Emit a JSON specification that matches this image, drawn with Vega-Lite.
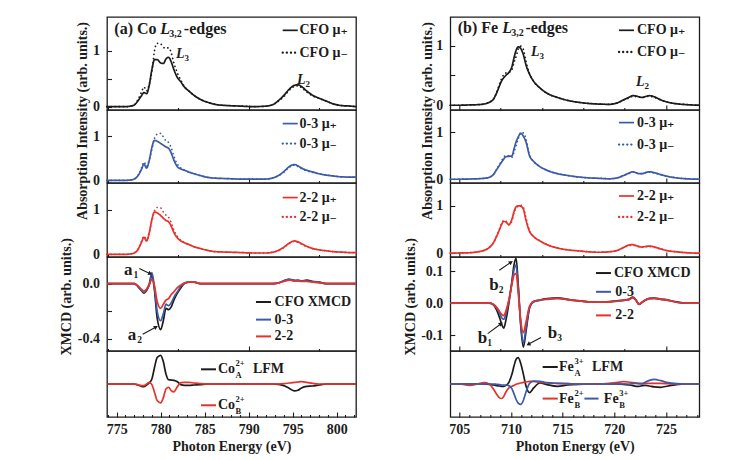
{
  "$schema": "https://vega.github.io/schema/vega-lite/v6.json",
  "background": "white",
  "padding": {"left": 59, "top": 16, "right": 10, "bottom": 5},
  "datasets": {
    "co": [
      {"E":773.9,"cfo_p":0,"cfo_m":0,"s03_p":0,"s03_m":0,"s22_p":0,"s22_m":0,"xmcd_cfo":0,"xmcd_03":0,"xmcd_22":0,"lfm_a":0,"lfm_b":0},
      {"E":775,"cfo_p":0,"cfo_m":0,"s03_p":0,"s03_m":0,"s22_p":0,"s22_m":0,"xmcd_cfo":0,"xmcd_03":0,"xmcd_22":0,"lfm_a":0,"lfm_b":0},
      {"E":776,"cfo_p":0,"cfo_m":0,"s03_p":0,"s03_m":0,"s22_p":0,"s22_m":0,"xmcd_cfo":0,"xmcd_03":0,"xmcd_22":0,"lfm_a":0,"lfm_b":0},
      {"E":776.6,"cfo_p":0.01,"cfo_m":0.01,"s03_p":0.01,"s03_m":0.01,"s22_p":0.01,"s22_m":0.01,"xmcd_cfo":0,"xmcd_03":0,"xmcd_22":0,"lfm_a":0,"lfm_b":0},
      {"E":777.0,"cfo_p":0.03,"cfo_m":0.03,"s03_p":0.03,"s03_m":0.03,"s22_p":0.03,"s22_m":0.03,"xmcd_cfo":0,"xmcd_03":0,"xmcd_22":0,"lfm_a":0,"lfm_b":0},
      {"E":777.4,"cfo_p":0.10,"cfo_m":0.12,"s03_p":0.10,"s03_m":0.11,"s22_p":0.10,"s22_m":0.11,"xmcd_cfo":-0.02,"xmcd_03":-0.02,"xmcd_22":-0.015,"lfm_a":-0.03,"lfm_b":-0.02},
      {"E":777.8,"cfo_p":0.19,"cfo_m":0.25,"s03_p":0.24,"s03_m":0.27,"s22_p":0.26,"s22_m":0.28,"xmcd_cfo":-0.05,"xmcd_03":-0.05,"xmcd_22":-0.04,"lfm_a":-0.07,"lfm_b":-0.05},
      {"E":778.1,"cfo_p":0.25,"cfo_m":0.35,"s03_p":0.37,"s03_m":0.42,"s22_p":0.38,"s22_m":0.41,"xmcd_cfo":-0.07,"xmcd_03":-0.065,"xmcd_22":-0.055,"lfm_a":-0.08,"lfm_b":-0.05},
      {"E":778.4,"cfo_p":0.23,"cfo_m":0.28,"s03_p":0.28,"s03_m":0.32,"s22_p":0.30,"s22_m":0.33,"xmcd_cfo":-0.05,"xmcd_03":-0.045,"xmcd_22":-0.04,"lfm_a":-0.03,"lfm_b":0},
      {"E":778.7,"cfo_p":0.38,"cfo_m":0.40,"s03_p":0.45,"s03_m":0.47,"s22_p":0.48,"s22_m":0.49,"xmcd_cfo":-0.01,"xmcd_03":0,"xmcd_22":-0.01,"lfm_a":0.03,"lfm_b":0.05},
      {"E":779.0,"cfo_p":0.66,"cfo_m":0.62,"s03_p":0.75,"s03_m":0.70,"s22_p":0.78,"s22_m":0.75,"xmcd_cfo":0.06,"xmcd_03":0.08,"xmcd_22":0.03,"lfm_a":0.15,"lfm_b":-0.02},
      {"E":779.3,"cfo_p":0.84,"cfo_m":1.00,"s03_p":0.91,"s03_m":0.96,"s22_p":0.95,"s22_m":0.98,"xmcd_cfo":-0.05,"xmcd_03":-0.03,"xmcd_22":-0.02,"lfm_a":0.5,"lfm_b":-0.25},
      {"E":779.6,"cfo_p":0.84,"cfo_m":1.13,"s03_p":0.89,"s03_m":1.05,"s22_p":0.93,"s22_m":1.05,"xmcd_cfo":-0.25,"xmcd_03":-0.2,"xmcd_22":-0.13,"lfm_a":0.8,"lfm_b":-0.5},
      {"E":780.0,"cfo_p":0.78,"cfo_m":1.12,"s03_p":0.84,"s03_m":1.07,"s22_p":0.87,"s22_m":1.04,"xmcd_cfo":-0.335,"xmcd_03":-0.27,"xmcd_22":-0.18,"lfm_a":0.87,"lfm_b":-0.57},
      {"E":780.3,"cfo_p":0.77,"cfo_m":1.06,"s03_p":0.80,"s03_m":0.99,"s22_p":0.81,"s22_m":0.95,"xmcd_cfo":-0.27,"xmcd_03":-0.22,"xmcd_22":-0.15,"lfm_a":0.68,"lfm_b":-0.42},
      {"E":780.6,"cfo_p":0.85,"cfo_m":1.04,"s03_p":0.76,"s03_m":0.90,"s22_p":0.76,"s22_m":0.88,"xmcd_cfo":-0.18,"xmcd_03":-0.15,"xmcd_22":-0.12,"lfm_a":0.3,"lfm_b":-0.15},
      {"E":780.9,"cfo_p":0.88,"cfo_m":1.05,"s03_p":0.73,"s03_m":0.86,"s22_p":0.73,"s22_m":0.83,"xmcd_cfo":-0.19,"xmcd_03":-0.16,"xmcd_22":-0.11,"lfm_a":0.13,"lfm_b":-0.1},
      {"E":781.2,"cfo_p":0.80,"cfo_m":0.96,"s03_p":0.62,"s03_m":0.74,"s22_p":0.63,"s22_m":0.71,"xmcd_cfo":-0.17,"xmcd_03":-0.14,"xmcd_22":-0.08,"lfm_a":0.12,"lfm_b":-0.2},
      {"E":781.5,"cfo_p":0.66,"cfo_m":0.78,"s03_p":0.46,"s03_m":0.55,"s22_p":0.49,"s22_m":0.55,"xmcd_cfo":-0.12,"xmcd_03":-0.1,"xmcd_22":-0.06,"lfm_a":0.11,"lfm_b":-0.24},
      {"E":781.9,"cfo_p":0.52,"cfo_m":0.60,"s03_p":0.31,"s03_m":0.37,"s22_p":0.37,"s22_m":0.40,"xmcd_cfo":-0.07,"xmcd_03":-0.06,"xmcd_22":-0.03,"lfm_a":0.07,"lfm_b":-0.08},
      {"E":782.3,"cfo_p":0.44,"cfo_m":0.47,"s03_p":0.26,"s03_m":0.28,"s22_p":0.30,"s22_m":0.31,"xmcd_cfo":-0.03,"xmcd_03":-0.02,"xmcd_22":-0.01,"lfm_a":-0.02,"lfm_b":0.04},
      {"E":782.7,"cfo_p":0.35,"cfo_m":0.36,"s03_p":0.23,"s03_m":0.23,"s22_p":0.26,"s22_m":0.26,"xmcd_cfo":0,"xmcd_03":0,"xmcd_22":0.005,"lfm_a":-0.04,"lfm_b":0.05},
      {"E":783.2,"cfo_p":0.28,"cfo_m":0.28,"s03_p":0.19,"s03_m":0.19,"s22_p":0.22,"s22_m":0.22,"xmcd_cfo":0.01,"xmcd_03":0.01,"xmcd_22":0.01,"lfm_a":-0.04,"lfm_b":0.05},
      {"E":783.8,"cfo_p":0.20,"cfo_m":0.20,"s03_p":0.15,"s03_m":0.15,"s22_p":0.17,"s22_m":0.17,"xmcd_cfo":0.01,"xmcd_03":0.01,"xmcd_22":0.01,"lfm_a":-0.03,"lfm_b":0.03},
      {"E":784.5,"cfo_p":0.13,"cfo_m":0.13,"s03_p":0.11,"s03_m":0.11,"s22_p":0.13,"s22_m":0.13,"xmcd_cfo":0,"xmcd_03":0,"xmcd_22":0,"lfm_a":-0.02,"lfm_b":0.01},
      {"E":785.3,"cfo_p":0.08,"cfo_m":0.08,"s03_p":0.07,"s03_m":0.07,"s22_p":0.09,"s22_m":0.09,"xmcd_cfo":0,"xmcd_03":0,"xmcd_22":0,"lfm_a":0,"lfm_b":0},
      {"E":786.2,"cfo_p":0.04,"cfo_m":0.04,"s03_p":0.05,"s03_m":0.05,"s22_p":0.06,"s22_m":0.06,"xmcd_cfo":0,"xmcd_03":0,"xmcd_22":0,"lfm_a":0,"lfm_b":0},
      {"E":787.5,"cfo_p":0.02,"cfo_m":0.02,"s03_p":0.04,"s03_m":0.04,"s22_p":0.05,"s22_m":0.05,"xmcd_cfo":0,"xmcd_03":0,"xmcd_22":0,"lfm_a":0,"lfm_b":0},
      {"E":789,"cfo_p":0.01,"cfo_m":0.01,"s03_p":0.03,"s03_m":0.03,"s22_p":0.04,"s22_m":0.04,"xmcd_cfo":0,"xmcd_03":0,"xmcd_22":0,"lfm_a":0,"lfm_b":0},
      {"E":790.5,"cfo_p":0,"cfo_m":0,"s03_p":0.03,"s03_m":0.03,"s22_p":0.03,"s22_m":0.03,"xmcd_cfo":0,"xmcd_03":0,"xmcd_22":0,"lfm_a":0,"lfm_b":0},
      {"E":792,"cfo_p":0.01,"cfo_m":0.01,"s03_p":0.03,"s03_m":0.03,"s22_p":0.03,"s22_m":0.03,"xmcd_cfo":0,"xmcd_03":0,"xmcd_22":0,"lfm_a":0,"lfm_b":0},
      {"E":792.8,"cfo_p":0.04,"cfo_m":0.04,"s03_p":0.06,"s03_m":0.06,"s22_p":0.05,"s22_m":0.05,"xmcd_cfo":0,"xmcd_03":0,"xmcd_22":0,"lfm_a":0,"lfm_b":0},
      {"E":793.4,"cfo_p":0.11,"cfo_m":0.10,"s03_p":0.11,"s03_m":0.105,"s22_p":0.09,"s22_m":0.085,"xmcd_cfo":0.005,"xmcd_03":0.005,"xmcd_22":0.005,"lfm_a":-0.01,"lfm_b":0},
      {"E":794.0,"cfo_p":0.20,"cfo_m":0.18,"s03_p":0.20,"s03_m":0.185,"s22_p":0.16,"s22_m":0.15,"xmcd_cfo":0.02,"xmcd_03":0.02,"xmcd_22":0.015,"lfm_a":-0.05,"lfm_b":0.01},
      {"E":794.6,"cfo_p":0.31,"cfo_m":0.29,"s03_p":0.31,"s03_m":0.295,"s22_p":0.25,"s22_m":0.24,"xmcd_cfo":0.03,"xmcd_03":0.03,"xmcd_22":0.025,"lfm_a":-0.13,"lfm_b":0.03},
      {"E":795.2,"cfo_p":0.38,"cfo_m":0.36,"s03_p":0.36,"s03_m":0.345,"s22_p":0.30,"s22_m":0.29,"xmcd_cfo":0.02,"xmcd_03":0.025,"xmcd_22":0.02,"lfm_a":-0.21,"lfm_b":0.05},
      {"E":795.6,"cfo_p":0.39,"cfo_m":0.37,"s03_p":0.33,"s03_m":0.315,"s22_p":0.28,"s22_m":0.27,"xmcd_cfo":0.025,"xmcd_03":0.02,"xmcd_22":0.02,"lfm_a":-0.19,"lfm_b":0.06},
      {"E":796.0,"cfo_p":0.36,"cfo_m":0.34,"s03_p":0.28,"s03_m":0.265,"s22_p":0.24,"s22_m":0.23,"xmcd_cfo":0.02,"xmcd_03":0.02,"xmcd_22":0.015,"lfm_a":-0.12,"lfm_b":0.07},
      {"E":796.6,"cfo_p":0.28,"cfo_m":0.26,"s03_p":0.23,"s03_m":0.215,"s22_p":0.18,"s22_m":0.17,"xmcd_cfo":0.025,"xmcd_03":0.02,"xmcd_22":0.015,"lfm_a":-0.07,"lfm_b":0.05},
      {"E":797.3,"cfo_p":0.20,"cfo_m":0.19,"s03_p":0.19,"s03_m":0.18,"s22_p":0.13,"s22_m":0.125,"xmcd_cfo":0.015,"xmcd_03":0.015,"xmcd_22":0.01,"lfm_a":-0.06,"lfm_b":0.02},
      {"E":798.0,"cfo_p":0.15,"cfo_m":0.15,"s03_p":0.15,"s03_m":0.15,"s22_p":0.10,"s22_m":0.10,"xmcd_cfo":0.01,"xmcd_03":0.01,"xmcd_22":0.005,"lfm_a":-0.03,"lfm_b":0},
      {"E":798.8,"cfo_p":0.10,"cfo_m":0.10,"s03_p":0.12,"s03_m":0.12,"s22_p":0.08,"s22_m":0.08,"xmcd_cfo":0,"xmcd_03":0,"xmcd_22":0,"lfm_a":0,"lfm_b":0},
      {"E":799.6,"cfo_p":0.05,"cfo_m":0.05,"s03_p":0.10,"s03_m":0.10,"s22_p":0.06,"s22_m":0.06,"xmcd_cfo":0,"xmcd_03":0,"xmcd_22":0,"lfm_a":0,"lfm_b":0},
      {"E":800.5,"cfo_p":0.02,"cfo_m":0.02,"s03_p":0.08,"s03_m":0.08,"s22_p":0.05,"s22_m":0.05,"xmcd_cfo":0,"xmcd_03":0,"xmcd_22":0,"lfm_a":0,"lfm_b":0},
      {"E":801.5,"cfo_p":0.01,"cfo_m":0.01,"s03_p":0.075,"s03_m":0.075,"s22_p":0.04,"s22_m":0.04,"xmcd_cfo":0,"xmcd_03":0,"xmcd_22":0,"lfm_a":0,"lfm_b":0},
      {"E":802.2,"cfo_p":0,"cfo_m":0,"s03_p":0.075,"s03_m":0.075,"s22_p":0.04,"s22_m":0.04,"xmcd_cfo":0,"xmcd_03":0,"xmcd_22":0,"lfm_a":0,"lfm_b":0}
    ],
    "fe": [
      {"E":704.13,"cfo_p":0,"cfo_m":0,"s03_p":0,"s03_m":0,"s22_p":0,"s22_m":0,"xmcd_cfo":0,"xmcd_03":0,"xmcd_22":0,"lfm_a":0,"lfm_b2":0,"lfm_b3":0},
      {"E":705,"cfo_p":0,"cfo_m":0,"s03_p":0,"s03_m":0,"s22_p":0.005,"s22_m":0.005,"xmcd_cfo":0,"xmcd_03":0,"xmcd_22":0,"lfm_a":0,"lfm_b2":0,"lfm_b3":0},
      {"E":706,"cfo_p":0.005,"cfo_m":0.005,"s03_p":0.005,"s03_m":0.005,"s22_p":0.01,"s22_m":0.01,"xmcd_cfo":0,"xmcd_03":0,"xmcd_22":0,"lfm_a":0,"lfm_b2":-0.04,"lfm_b3":0},
      {"E":706.8,"cfo_p":0.01,"cfo_m":0.01,"s03_p":0.01,"s03_m":0.01,"s22_p":0.03,"s22_m":0.03,"xmcd_cfo":0,"xmcd_03":0,"xmcd_22":0,"lfm_a":0,"lfm_b2":0,"lfm_b3":0},
      {"E":707.4,"cfo_p":0.02,"cfo_m":0.02,"s03_p":0.02,"s03_m":0.02,"s22_p":0.06,"s22_m":0.06,"xmcd_cfo":0,"xmcd_03":0,"xmcd_22":0,"lfm_a":0,"lfm_b2":0.04,"lfm_b3":0},
      {"E":707.9,"cfo_p":0.05,"cfo_m":0.05,"s03_p":0.04,"s03_m":0.04,"s22_p":0.12,"s22_m":0.12,"xmcd_cfo":0,"xmcd_03":0,"xmcd_22":0,"lfm_a":-0.01,"lfm_b2":0,"lfm_b3":0},
      {"E":708.3,"cfo_p":0.10,"cfo_m":0.10,"s03_p":0.10,"s03_m":0.10,"s22_p":0.22,"s22_m":0.22,"xmcd_cfo":-0.005,"xmcd_03":-0.004,"xmcd_22":-0.003,"lfm_a":-0.03,"lfm_b2":-0.15,"lfm_b3":0},
      {"E":708.6,"cfo_p":0.20,"cfo_m":0.21,"s03_p":0.20,"s03_m":0.21,"s22_p":0.35,"s22_m":0.36,"xmcd_cfo":-0.02,"xmcd_03":-0.015,"xmcd_22":-0.012,"lfm_a":-0.05,"lfm_b2":-0.30,"lfm_b3":-0.01},
      {"E":708.9,"cfo_p":0.33,"cfo_m":0.36,"s03_p":0.30,"s03_m":0.32,"s22_p":0.50,"s22_m":0.52,"xmcd_cfo":-0.045,"xmcd_03":-0.032,"xmcd_22":-0.026,"lfm_a":-0.06,"lfm_b2":-0.42,"lfm_b3":-0.02},
      {"E":709.1,"cfo_p":0.41,"cfo_m":0.45,"s03_p":0.37,"s03_m":0.40,"s22_p":0.61,"s22_m":0.63,"xmcd_cfo":-0.065,"xmcd_03":-0.045,"xmcd_22":-0.035,"lfm_a":-0.07,"lfm_b2":-0.44,"lfm_b3":-0.03},
      {"E":709.3,"cfo_p":0.46,"cfo_m":0.51,"s03_p":0.43,"s03_m":0.47,"s22_p":0.67,"s22_m":0.69,"xmcd_cfo":-0.078,"xmcd_03":-0.05,"xmcd_22":-0.039,"lfm_a":-0.07,"lfm_b2":-0.38,"lfm_b3":-0.03},
      {"E":709.5,"cfo_p":0.50,"cfo_m":0.54,"s03_p":0.48,"s03_m":0.51,"s22_p":0.66,"s22_m":0.68,"xmcd_cfo":-0.055,"xmcd_03":-0.035,"xmcd_22":-0.025,"lfm_a":-0.05,"lfm_b2":-0.25,"lfm_b3":-0.03},
      {"E":709.8,"cfo_p":0.55,"cfo_m":0.55,"s03_p":0.49,"s03_m":0.50,"s22_p":0.60,"s22_m":0.60,"xmcd_cfo":0,"xmcd_03":0.008,"xmcd_22":0.01,"lfm_a":0.05,"lfm_b2":-0.12,"lfm_b3":-0.05},
      {"E":710.1,"cfo_p":0.65,"cfo_m":0.60,"s03_p":0.50,"s03_m":0.47,"s22_p":0.72,"s22_m":0.68,"xmcd_cfo":0.07,"xmcd_03":0.065,"xmcd_22":0.06,"lfm_a":0.30,"lfm_b2":-0.07,"lfm_b3":-0.15},
      {"E":710.3,"cfo_p":0.80,"cfo_m":0.72,"s03_p":0.65,"s03_m":0.58,"s22_p":0.88,"s22_m":0.85,"xmcd_cfo":0.12,"xmcd_03":0.105,"xmcd_22":0.088,"lfm_a":0.55,"lfm_b2":-0.04,"lfm_b3":-0.30},
      {"E":710.5,"cfo_p":0.92,"cfo_m":0.82,"s03_p":0.80,"s03_m":0.72,"s22_p":0.98,"s22_m":0.95,"xmcd_cfo":0.14,"xmcd_03":0.119,"xmcd_22":0.093,"lfm_a":0.75,"lfm_b2":-0.01,"lfm_b3":-0.47},
      {"E":710.7,"cfo_p":0.98,"cfo_m":0.94,"s03_p":0.90,"s03_m":0.86,"s22_p":1.00,"s22_m":0.99,"xmcd_cfo":0.06,"xmcd_03":0.05,"xmcd_22":0.035,"lfm_a":0.80,"lfm_b2":0.01,"lfm_b3":-0.58},
      {"E":710.95,"cfo_p":0.95,"cfo_m":0.99,"s03_p":0.98,"s03_m":1.00,"s22_p":0.99,"s22_m":1.01,"xmcd_cfo":-0.07,"xmcd_03":-0.065,"xmcd_22":-0.055,"lfm_a":0.62,"lfm_b2":0.03,"lfm_b3":-0.62},
      {"E":711.2,"cfo_p":0.85,"cfo_m":0.94,"s03_p":0.92,"s03_m":0.99,"s22_p":0.93,"s22_m":0.97,"xmcd_cfo":-0.137,"xmcd_03":-0.123,"xmcd_22":-0.092,"lfm_a":0.30,"lfm_b2":0.05,"lfm_b3":-0.50},
      {"E":711.45,"cfo_p":0.68,"cfo_m":0.74,"s03_p":0.80,"s03_m":0.86,"s22_p":0.70,"s22_m":0.75,"xmcd_cfo":-0.09,"xmcd_03":-0.08,"xmcd_22":-0.06,"lfm_a":-0.05,"lfm_b2":0.06,"lfm_b3":-0.25},
      {"E":711.8,"cfo_p":0.52,"cfo_m":0.53,"s03_p":0.50,"s03_m":0.52,"s22_p":0.46,"s22_m":0.47,"xmcd_cfo":-0.015,"xmcd_03":-0.013,"xmcd_22":-0.01,"lfm_a":-0.26,"lfm_b2":0.08,"lfm_b3":0.02},
      {"E":712.2,"cfo_p":0.40,"cfo_m":0.40,"s03_p":0.38,"s03_m":0.38,"s22_p":0.35,"s22_m":0.35,"xmcd_cfo":0.005,"xmcd_03":0.004,"xmcd_22":0.006,"lfm_a":-0.12,"lfm_b2":0.08,"lfm_b3":0.09},
      {"E":712.8,"cfo_p":0.29,"cfo_m":0.29,"s03_p":0.27,"s03_m":0.27,"s22_p":0.26,"s22_m":0.26,"xmcd_cfo":0.01,"xmcd_03":0.009,"xmcd_22":0.01,"lfm_a":0.03,"lfm_b2":0.05,"lfm_b3":0.08},
      {"E":713.5,"cfo_p":0.20,"cfo_m":0.20,"s03_p":0.19,"s03_m":0.19,"s22_p":0.18,"s22_m":0.18,"xmcd_cfo":0.014,"xmcd_03":0.012,"xmcd_22":0.013,"lfm_a":-0.02,"lfm_b2":0.03,"lfm_b3":0.04},
      {"E":714.5,"cfo_p":0.13,"cfo_m":0.13,"s03_p":0.12,"s03_m":0.12,"s22_p":0.11,"s22_m":0.11,"xmcd_cfo":0.017,"xmcd_03":0.015,"xmcd_22":0.015,"lfm_a":-0.07,"lfm_b2":0.02,"lfm_b3":0.02},
      {"E":715.5,"cfo_p":0.08,"cfo_m":0.08,"s03_p":0.08,"s03_m":0.08,"s22_p":0.07,"s22_m":0.07,"xmcd_cfo":0.012,"xmcd_03":0.011,"xmcd_22":0.011,"lfm_a":-0.03,"lfm_b2":0.01,"lfm_b3":0.01},
      {"E":716.5,"cfo_p":0.05,"cfo_m":0.05,"s03_p":0.05,"s03_m":0.05,"s22_p":0.05,"s22_m":0.05,"xmcd_cfo":0.008,"xmcd_03":0.007,"xmcd_22":0.007,"lfm_a":-0.01,"lfm_b2":0,"lfm_b3":0},
      {"E":717.5,"cfo_p":0.03,"cfo_m":0.03,"s03_p":0.03,"s03_m":0.03,"s22_p":0.03,"s22_m":0.03,"xmcd_cfo":0.004,"xmcd_03":0.004,"xmcd_22":0.004,"lfm_a":0,"lfm_b2":0,"lfm_b3":0},
      {"E":718.5,"cfo_p":0.02,"cfo_m":0.02,"s03_p":0.02,"s03_m":0.02,"s22_p":0.02,"s22_m":0.02,"xmcd_cfo":0.003,"xmcd_03":0.003,"xmcd_22":0.003,"lfm_a":0,"lfm_b2":0,"lfm_b3":0},
      {"E":719.5,"cfo_p":0.015,"cfo_m":0.015,"s03_p":0.01,"s03_m":0.01,"s22_p":0.03,"s22_m":0.03,"xmcd_cfo":0.005,"xmcd_03":0.004,"xmcd_22":0.004,"lfm_a":0,"lfm_b2":0.02,"lfm_b3":0},
      {"E":720.3,"cfo_p":0.04,"cfo_m":0.04,"s03_p":0.03,"s03_m":0.03,"s22_p":0.06,"s22_m":0.06,"xmcd_cfo":0.007,"xmcd_03":0.006,"xmcd_22":0.006,"lfm_a":0,"lfm_b2":0.05,"lfm_b3":0},
      {"E":720.9,"cfo_p":0.09,"cfo_m":0.09,"s03_p":0.08,"s03_m":0.08,"s22_p":0.12,"s22_m":0.12,"xmcd_cfo":0.01,"xmcd_03":0.009,"xmcd_22":0.009,"lfm_a":-0.01,"lfm_b2":0.07,"lfm_b3":0},
      {"E":721.4,"cfo_p":0.13,"cfo_m":0.12,"s03_p":0.13,"s03_m":0.12,"s22_p":0.17,"s22_m":0.16,"xmcd_cfo":0.012,"xmcd_03":0.011,"xmcd_22":0.011,"lfm_a":-0.03,"lfm_b2":0.06,"lfm_b3":0},
      {"E":721.8,"cfo_p":0.16,"cfo_m":0.15,"s03_p":0.16,"s03_m":0.15,"s22_p":0.18,"s22_m":0.17,"xmcd_cfo":0.019,"xmcd_03":0.017,"xmcd_22":0.017,"lfm_a":-0.05,"lfm_b2":0.04,"lfm_b3":0.01},
      {"E":722.1,"cfo_p":0.155,"cfo_m":0.145,"s03_p":0.14,"s03_m":0.135,"s22_p":0.16,"s22_m":0.155,"xmcd_cfo":0.01,"xmcd_03":0.009,"xmcd_22":0.009,"lfm_a":-0.07,"lfm_b2":0.03,"lfm_b3":0.02},
      {"E":722.4,"cfo_p":0.14,"cfo_m":0.14,"s03_p":0.12,"s03_m":0.12,"s22_p":0.14,"s22_m":0.14,"xmcd_cfo":-0.004,"xmcd_03":-0.003,"xmcd_22":-0.003,"lfm_a":-0.07,"lfm_b2":0.02,"lfm_b3":0.01},
      {"E":722.7,"cfo_p":0.13,"cfo_m":0.13,"s03_p":0.12,"s03_m":0.12,"s22_p":0.13,"s22_m":0.13,"xmcd_cfo":0.003,"xmcd_03":0.003,"xmcd_22":0.003,"lfm_a":-0.05,"lfm_b2":0.02,"lfm_b3":0},
      {"E":723.0,"cfo_p":0.145,"cfo_m":0.14,"s03_p":0.14,"s03_m":0.135,"s22_p":0.14,"s22_m":0.135,"xmcd_cfo":0.01,"xmcd_03":0.009,"xmcd_22":0.009,"lfm_a":-0.04,"lfm_b2":0.02,"lfm_b3":0.05},
      {"E":723.4,"cfo_p":0.16,"cfo_m":0.15,"s03_p":0.16,"s03_m":0.15,"s22_p":0.15,"s22_m":0.14,"xmcd_cfo":0.015,"xmcd_03":0.014,"xmcd_22":0.014,"lfm_a":-0.06,"lfm_b2":0.02,"lfm_b3":0.11},
      {"E":723.9,"cfo_p":0.14,"cfo_m":0.13,"s03_p":0.14,"s03_m":0.13,"s22_p":0.13,"s22_m":0.12,"xmcd_cfo":0.016,"xmcd_03":0.015,"xmcd_22":0.015,"lfm_a":-0.09,"lfm_b2":0.02,"lfm_b3":0.14},
      {"E":724.5,"cfo_p":0.09,"cfo_m":0.09,"s03_p":0.10,"s03_m":0.10,"s22_p":0.09,"s22_m":0.09,"xmcd_cfo":0.013,"xmcd_03":0.012,"xmcd_22":0.012,"lfm_a":-0.10,"lfm_b2":0.02,"lfm_b3":0.10},
      {"E":725.2,"cfo_p":0.05,"cfo_m":0.05,"s03_p":0.06,"s03_m":0.06,"s22_p":0.05,"s22_m":0.05,"xmcd_cfo":0.01,"xmcd_03":0.009,"xmcd_22":0.009,"lfm_a":-0.06,"lfm_b2":0.01,"lfm_b3":0.04},
      {"E":726.0,"cfo_p":0.025,"cfo_m":0.025,"s03_p":0.03,"s03_m":0.03,"s22_p":0.03,"s22_m":0.03,"xmcd_cfo":0.004,"xmcd_03":0.003,"xmcd_22":0.003,"lfm_a":-0.02,"lfm_b2":0,"lfm_b3":0.01},
      {"E":727.0,"cfo_p":0.01,"cfo_m":0.01,"s03_p":0.01,"s03_m":0.01,"s22_p":0.01,"s22_m":0.01,"xmcd_cfo":0,"xmcd_03":0,"xmcd_22":0,"lfm_a":0,"lfm_b2":0,"lfm_b3":0},
      {"E":728.23,"cfo_p":0,"cfo_m":0,"s03_p":0,"s03_m":0,"s22_p":0,"s22_m":0,"xmcd_cfo":0,"xmcd_03":0,"xmcd_22":0,"lfm_a":0,"lfm_b2":0,"lfm_b3":0}
    ]
  },
  "columns": 2,
  "spacing": {"row": 0, "column": 94.3},
  "bounds": "flush",
  "resolve": {"scale": {"color": "independent", "strokeDash": "independent", "strokeWidth": "independent"}},
  "concat": [
    {
      "width": 249, "height": 93,
      "layer": [
        {"data": {"name": "co"}, "transform": [{"fold": ["cfo_p", "cfo_m"], "as": ["series", "value"]}],
         "mark": {"type": "line", "interpolate": "monotone", "strokeCap": "round"},
         "encoding": {
           "x": {"field": "E", "type": "quantitative", "scale": {"domain": [773.9, 802.2], "nice": false, "zero": false},
                 "axis": {"values": [774,775,776,777,778,779,780,781,782,783,784,785,786,787,788,789,790,791,792,793,794,795,796,797,798,799,800,801,802], "labels": false, "title": null, "tickSize": {"condition": {"test": "datum.value % 5 === 0", "value": -5}, "value": -2.5}}},
           "y": {"field": "value", "type": "quantitative", "scale": {"domain": [-0.06, 1.6], "nice": false, "zero": false},
                 "axis": {"values": [0, 0.5, 1], "labelExpr": "datum.value === 0.5 ? '' : (datum.value === 0 ? '0' : '1')", "labelOverlap": false, "labelPadding": 12, "tickSize": -4.5, "title": null}},
           "color": {"field": "series", "type": "nominal", "scale": {"domain": ["cfo_p", "cfo_m"], "range": ["#1c1c1c", "#1c1c1c"]}, "legend": null},
           "strokeDash": {"field": "series", "type": "nominal", "scale": {"domain": ["cfo_p", "cfo_m"], "range": [[1, 0], [0.1, 4]]}, "legend": null},
           "strokeWidth": {"field": "series", "type": "nominal", "scale": {"domain": ["cfo_p", "cfo_m"], "range": [1.7, 2.3]}, "legend": null}
         }},
        {"data": {"values": [{}]}, "mark": {"type": "text", "text": "(a) Co", "align": "left", "baseline": "alphabetic", "fontSize": 16}, "encoding": {"x": {"datum": 774.73}, "y": {"datum": 1.304}}},
        {"data": {"values": [{}]}, "mark": {"type": "text", "text": "L", "align": "left", "baseline": "alphabetic", "fontSize": 16, "fontStyle": "italic", "dx": 46}, "encoding": {"x": {"datum": 774.73}, "y": {"datum": 1.304}}},
        {"data": {"values": [{}]}, "mark": {"type": "text", "text": "3,2", "align": "left", "baseline": "alphabetic", "fontSize": 10, "dx": 55, "dy": 3}, "encoding": {"x": {"datum": 774.73}, "y": {"datum": 1.304}}},
        {"data": {"values": [{}]}, "mark": {"type": "text", "text": "-edges", "align": "left", "baseline": "alphabetic", "fontSize": 16, "dx": 69.5}, "encoding": {"x": {"datum": 774.73}, "y": {"datum": 1.304}}},
        {"data": {"values": [{}]}, "mark": {"type": "rule", "color": "#1c1c1c"}, "encoding": {"x": {"datum": 793.87}, "x2": {"datum": 795.58}, "y": {"datum": 1.362}}},
        {"data": {"values": [{}]}, "mark": {"type": "text", "text": "CFO μ₊", "align": "left", "baseline": "middle"}, "encoding": {"x": {"datum": 795.78}, "y": {"datum": 1.362}}},
        {"data": {"values": [{}]}, "mark": {"type": "rule", "color": "#1c1c1c", "strokeDash": [0.1, 4], "strokeCap": "round", "strokeWidth": 2.3}, "encoding": {"x": {"datum": 793.87}, "x2": {"datum": 795.58}, "y": {"datum": 0.964}}},
        {"data": {"values": [{}]}, "mark": {"type": "text", "text": "CFO μ₋", "align": "left", "baseline": "middle"}, "encoding": {"x": {"datum": 795.78}, "y": {"datum": 0.964}}},
        {"data": {"values": [{}]}, "mark": {"type": "text", "text": "L", "align": "left", "baseline": "middle", "fontStyle": "italic"}, "encoding": {"x": {"datum": 781.74}, "y": {"datum": 0.946}}},
        {"data": {"values": [{}]}, "mark": {"type": "text", "text": "3", "align": "left", "baseline": "middle", "fontSize": 9, "dx": 8.5, "dy": 4}, "encoding": {"x": {"datum": 781.74}, "y": {"datum": 0.946}}},
        {"data": {"values": [{}]}, "mark": {"type": "text", "text": "L", "align": "left", "baseline": "middle", "fontStyle": "italic"}, "encoding": {"x": {"datum": 795.49}, "y": {"datum": 0.47}}},
        {"data": {"values": [{}]}, "mark": {"type": "text", "text": "2", "align": "left", "baseline": "middle", "fontSize": 9, "dx": 8.5, "dy": 4}, "encoding": {"x": {"datum": 795.49}, "y": {"datum": 0.47}}}
      ]
    },
    {
      "width": 249, "height": 93,
      "layer": [
        {"data": {"name": "fe"}, "transform": [{"fold": ["cfo_p", "cfo_m"], "as": ["series", "value"]}],
         "mark": {"type": "line", "interpolate": "monotone", "strokeCap": "round"},
         "encoding": {
           "x": {"field": "E", "type": "quantitative", "scale": {"domain": [704.13, 728.23], "nice": false, "zero": false},
                 "axis": {"values": [705,706,707,708,709,710,711,712,713,714,715,716,717,718,719,720,721,722,723,724,725,726,727,728], "labels": false, "title": null, "tickSize": {"condition": {"test": "datum.value % 5 === 0", "value": -5}, "value": -2.5}}},
           "y": {"field": "value", "type": "quantitative", "scale": {"domain": [-0.08, 1.48], "nice": false, "zero": false},
                 "axis": {"values": [0, 0.5, 1], "labelExpr": "datum.value === 0.5 ? '' : (datum.value === 0 ? '0' : '1')", "labelOverlap": false, "labelPadding": 12, "tickSize": -4.5, "title": null}},
           "color": {"field": "series", "type": "nominal", "scale": {"domain": ["cfo_p", "cfo_m"], "range": ["#1c1c1c", "#1c1c1c"]}, "legend": null},
           "strokeDash": {"field": "series", "type": "nominal", "scale": {"domain": ["cfo_p", "cfo_m"], "range": [[1, 0], [0.1, 4]]}, "legend": null},
           "strokeWidth": {"field": "series", "type": "nominal", "scale": {"domain": ["cfo_p", "cfo_m"], "range": [1.7, 2.3]}, "legend": null}
         }},
        {"data": {"values": [{}]}, "mark": {"type": "text", "text": "(b) Fe", "align": "left", "baseline": "alphabetic", "fontSize": 16}, "encoding": {"x": {"datum": 704.85}, "y": {"datum": 1.207}}},
        {"data": {"values": [{}]}, "mark": {"type": "text", "text": "L", "align": "left", "baseline": "alphabetic", "fontSize": 16, "fontStyle": "italic", "dx": 44.4}, "encoding": {"x": {"datum": 704.85}, "y": {"datum": 1.207}}},
        {"data": {"values": [{}]}, "mark": {"type": "text", "text": "3,2", "align": "left", "baseline": "alphabetic", "fontSize": 10, "dx": 53.5, "dy": 3}, "encoding": {"x": {"datum": 704.85}, "y": {"datum": 1.207}}},
        {"data": {"values": [{}]}, "mark": {"type": "text", "text": "-edges", "align": "left", "baseline": "alphabetic", "fontSize": 16, "dx": 67.7}, "encoding": {"x": {"datum": 704.85}, "y": {"datum": 1.207}}},
        {"data": {"values": [{}]}, "mark": {"type": "rule", "color": "#1c1c1c"}, "encoding": {"x": {"datum": 720.46}, "x2": {"datum": 721.91}, "y": {"datum": 1.257}}},
        {"data": {"values": [{}]}, "mark": {"type": "text", "text": "CFO μ₊", "align": "left", "baseline": "middle"}, "encoding": {"x": {"datum": 722.2}, "y": {"datum": 1.257}}},
        {"data": {"values": [{}]}, "mark": {"type": "rule", "color": "#1c1c1c", "strokeDash": [0.1, 4], "strokeCap": "round", "strokeWidth": 2.3}, "encoding": {"x": {"datum": 720.46}, "x2": {"datum": 721.91}, "y": {"datum": 0.893}}},
        {"data": {"values": [{}]}, "mark": {"type": "text", "text": "CFO μ₋", "align": "left", "baseline": "middle"}, "encoding": {"x": {"datum": 722.2}, "y": {"datum": 0.893}}},
        {"data": {"values": [{}]}, "mark": {"type": "text", "text": "L", "align": "left", "baseline": "middle", "fontStyle": "italic"}, "encoding": {"x": {"datum": 711.94}, "y": {"datum": 0.893}}},
        {"data": {"values": [{}]}, "mark": {"type": "text", "text": "3", "align": "left", "baseline": "middle", "fontSize": 9, "dx": 8.5, "dy": 4}, "encoding": {"x": {"datum": 711.94}, "y": {"datum": 0.893}}},
        {"data": {"values": [{}]}, "mark": {"type": "text", "text": "L", "align": "left", "baseline": "middle", "fontStyle": "italic"}, "encoding": {"x": {"datum": 722.1}, "y": {"datum": 0.389}}},
        {"data": {"values": [{}]}, "mark": {"type": "text", "text": "2", "align": "left", "baseline": "middle", "fontSize": 9, "dx": 8.5, "dy": 4}, "encoding": {"x": {"datum": 722.1}, "y": {"datum": 0.389}}}
      ]
    },
    {
      "width": 249, "height": 73,
      "layer": [
        {"data": {"name": "co"}, "transform": [{"fold": ["s03_p", "s03_m"], "as": ["series", "value"]}],
         "mark": {"type": "line", "interpolate": "monotone", "strokeCap": "round"},
         "encoding": {
           "x": {"field": "E", "type": "quantitative", "scale": {"domain": [773.9, 802.2], "nice": false, "zero": false},
                 "axis": {"values": [774,775,776,777,778,779,780,781,782,783,784,785,786,787,788,789,790,791,792,793,794,795,796,797,798,799,800,801,802], "labels": false, "title": null, "tickSize": {"condition": {"test": "datum.value % 5 === 0", "value": -5}, "value": -2.5}}},
           "y": {"field": "value", "type": "quantitative", "scale": {"domain": [-0.06, 1.6], "nice": false, "zero": false},
                 "axis": {"values": [0, 0.5, 1], "labelExpr": "datum.value === 0.5 ? '' : (datum.value === 0 ? '0' : '1')", "labelOverlap": false, "labelPadding": 12, "tickSize": -4.5,
                          "title": "Absorption Intensity (arb. units.)", "titleX": -24.3, "titleY": 10.5, "titleBaseline": "middle", "titleAlign": "center", "titleAngle": -90}},
           "color": {"field": "series", "type": "nominal", "scale": {"domain": ["s03_p", "s03_m"], "range": ["#3b5ba9", "#3b5ba9"]}, "legend": null},
           "strokeDash": {"field": "series", "type": "nominal", "scale": {"domain": ["s03_p", "s03_m"], "range": [[1, 0], [0.1, 4]]}, "legend": null},
           "strokeWidth": {"field": "series", "type": "nominal", "scale": {"domain": ["s03_p", "s03_m"], "range": [1.7, 2.3]}, "legend": null}
         }},
        {"data": {"values": [{}]}, "mark": {"type": "rule", "color": "#3b5ba9"}, "encoding": {"x": {"datum": 793.87}, "x2": {"datum": 795.58}, "y": {"datum": 1.291}}},
        {"data": {"values": [{}]}, "mark": {"type": "text", "text": "0-3 μ₊", "align": "left", "baseline": "middle"}, "encoding": {"x": {"datum": 795.78}, "y": {"datum": 1.291}}},
        {"data": {"values": [{}]}, "mark": {"type": "rule", "color": "#3b5ba9", "strokeDash": [0.1, 4], "strokeCap": "round", "strokeWidth": 2.3}, "encoding": {"x": {"datum": 793.87}, "x2": {"datum": 795.58}, "y": {"datum": 0.836}}},
        {"data": {"values": [{}]}, "mark": {"type": "text", "text": "0-3 μ₋", "align": "left", "baseline": "middle"}, "encoding": {"x": {"datum": 795.78}, "y": {"datum": 0.836}}}
      ]
    },
    {
      "width": 249, "height": 73,
      "layer": [
        {"data": {"name": "fe"}, "transform": [{"fold": ["s03_p", "s03_m"], "as": ["series", "value"]}],
         "mark": {"type": "line", "interpolate": "monotone", "strokeCap": "round"},
         "encoding": {
           "x": {"field": "E", "type": "quantitative", "scale": {"domain": [704.13, 728.23], "nice": false, "zero": false},
                 "axis": {"values": [705,706,707,708,709,710,711,712,713,714,715,716,717,718,719,720,721,722,723,724,725,726,727,728], "labels": false, "title": null, "tickSize": {"condition": {"test": "datum.value % 5 === 0", "value": -5}, "value": -2.5}}},
           "y": {"field": "value", "type": "quantitative", "scale": {"domain": [-0.08, 1.48], "nice": false, "zero": false},
                 "axis": {"values": [0, 0.5, 1], "labelExpr": "datum.value === 0.5 ? '' : (datum.value === 0 ? '0' : '1')", "labelOverlap": false, "labelPadding": 12, "tickSize": -4.5,
                          "title": "Absorption Intensity (arb. units.)", "titleX": -23, "titleY": 10.5, "titleBaseline": "middle", "titleAlign": "center", "titleAngle": -90}},
           "color": {"field": "series", "type": "nominal", "scale": {"domain": ["s03_p", "s03_m"], "range": ["#3b5ba9", "#3b5ba9"]}, "legend": null},
           "strokeDash": {"field": "series", "type": "nominal", "scale": {"domain": ["s03_p", "s03_m"], "range": [[1, 0], [0.1, 4]]}, "legend": null},
           "strokeWidth": {"field": "series", "type": "nominal", "scale": {"domain": ["s03_p", "s03_m"], "range": [1.7, 2.3]}, "legend": null}
         }},
        {"data": {"values": [{}]}, "mark": {"type": "rule", "color": "#3b5ba9"}, "encoding": {"x": {"datum": 720.46}, "x2": {"datum": 721.91}, "y": {"datum": 1.211}}},
        {"data": {"values": [{}]}, "mark": {"type": "text", "text": "0-3 μ₊", "align": "left", "baseline": "middle"}, "encoding": {"x": {"datum": 722.2}, "y": {"datum": 1.211}}},
        {"data": {"values": [{}]}, "mark": {"type": "rule", "color": "#3b5ba9", "strokeDash": [0.1, 4], "strokeCap": "round", "strokeWidth": 2.3}, "encoding": {"x": {"datum": 720.46}, "x2": {"datum": 721.91}, "y": {"datum": 0.741}}},
        {"data": {"values": [{}]}, "mark": {"type": "text", "text": "0-3 μ₋", "align": "left", "baseline": "middle"}, "encoding": {"x": {"datum": 722.2}, "y": {"datum": 0.741}}}
      ]
    },
    {
      "width": 249, "height": 74,
      "layer": [
        {"data": {"name": "co"}, "transform": [{"fold": ["s22_p", "s22_m"], "as": ["series", "value"]}],
         "mark": {"type": "line", "interpolate": "monotone", "strokeCap": "round"},
         "encoding": {
           "x": {"field": "E", "type": "quantitative", "scale": {"domain": [773.9, 802.2], "nice": false, "zero": false},
                 "axis": {"values": [774,775,776,777,778,779,780,781,782,783,784,785,786,787,788,789,790,791,792,793,794,795,796,797,798,799,800,801,802], "labels": false, "title": null, "tickSize": {"condition": {"test": "datum.value % 5 === 0", "value": -5}, "value": -2.5}}},
           "y": {"field": "value", "type": "quantitative", "scale": {"domain": [-0.06, 1.6], "nice": false, "zero": false},
                 "axis": {"values": [0, 0.5, 1], "labelExpr": "datum.value === 0.5 ? '' : (datum.value === 0 ? '0' : '1')", "labelOverlap": false, "labelPadding": 12, "tickSize": -4.5, "title": null}},
           "color": {"field": "series", "type": "nominal", "scale": {"domain": ["s22_p", "s22_m"], "range": ["#e8312b", "#e8312b"]}, "legend": null},
           "strokeDash": {"field": "series", "type": "nominal", "scale": {"domain": ["s22_p", "s22_m"], "range": [[1, 0], [0.1, 4]]}, "legend": null},
           "strokeWidth": {"field": "series", "type": "nominal", "scale": {"domain": ["s22_p", "s22_m"], "range": [1.7, 2.3]}, "legend": null}
         }},
        {"data": {"values": [{}]}, "mark": {"type": "rule", "color": "#e8312b"}, "encoding": {"x": {"datum": 793.87}, "x2": {"datum": 795.58}, "y": {"datum": 1.273}}},
        {"data": {"values": [{}]}, "mark": {"type": "text", "text": "2-2 μ₊", "align": "left", "baseline": "middle"}, "encoding": {"x": {"datum": 795.78}, "y": {"datum": 1.273}}},
        {"data": {"values": [{}]}, "mark": {"type": "rule", "color": "#e8312b", "strokeDash": [0.1, 4], "strokeCap": "round", "strokeWidth": 2.3}, "encoding": {"x": {"datum": 793.87}, "x2": {"datum": 795.58}, "y": {"datum": 0.838}}},
        {"data": {"values": [{}]}, "mark": {"type": "text", "text": "2-2 μ₋", "align": "left", "baseline": "middle"}, "encoding": {"x": {"datum": 795.78}, "y": {"datum": 0.838}}}
      ]
    },
    {
      "width": 249, "height": 74,
      "layer": [
        {"data": {"name": "fe"}, "transform": [{"fold": ["s22_p", "s22_m"], "as": ["series", "value"]}],
         "mark": {"type": "line", "interpolate": "monotone", "strokeCap": "round"},
         "encoding": {
           "x": {"field": "E", "type": "quantitative", "scale": {"domain": [704.13, 728.23], "nice": false, "zero": false},
                 "axis": {"values": [705,706,707,708,709,710,711,712,713,714,715,716,717,718,719,720,721,722,723,724,725,726,727,728], "labels": false, "title": null, "tickSize": {"condition": {"test": "datum.value % 5 === 0", "value": -5}, "value": -2.5}}},
           "y": {"field": "value", "type": "quantitative", "scale": {"domain": [-0.08, 1.48], "nice": false, "zero": false},
                 "axis": {"values": [0, 0.5, 1], "labelExpr": "datum.value === 0.5 ? '' : (datum.value === 0 ? '0' : '1')", "labelOverlap": false, "labelPadding": 12, "tickSize": -4.5, "title": null}},
           "color": {"field": "series", "type": "nominal", "scale": {"domain": ["s22_p", "s22_m"], "range": ["#e8312b", "#e8312b"]}, "legend": null},
           "strokeDash": {"field": "series", "type": "nominal", "scale": {"domain": ["s22_p", "s22_m"], "range": [[1, 0], [0.1, 4]]}, "legend": null},
           "strokeWidth": {"field": "series", "type": "nominal", "scale": {"domain": ["s22_p", "s22_m"], "range": [1.7, 2.3]}, "legend": null}
         }},
        {"data": {"values": [{}]}, "mark": {"type": "rule", "color": "#e8312b"}, "encoding": {"x": {"datum": 720.46}, "x2": {"datum": 721.91}, "y": {"datum": 1.206}}},
        {"data": {"values": [{}]}, "mark": {"type": "text", "text": "2-2 μ₊", "align": "left", "baseline": "middle"}, "encoding": {"x": {"datum": 722.2}, "y": {"datum": 1.206}}},
        {"data": {"values": [{}]}, "mark": {"type": "rule", "color": "#e8312b", "strokeDash": [0.1, 4], "strokeCap": "round", "strokeWidth": 2.3}, "encoding": {"x": {"datum": 720.46}, "x2": {"datum": 721.91}, "y": {"datum": 0.763}}},
        {"data": {"values": [{}]}, "mark": {"type": "text", "text": "2-2 μ₋", "align": "left", "baseline": "middle"}, "encoding": {"x": {"datum": 722.2}, "y": {"datum": 0.763}}}
      ]
    },
    {
      "width": 249, "height": 94,
      "layer": [
        {"data": {"name": "co"}, "transform": [{"fold": ["xmcd_cfo", "xmcd_03", "xmcd_22"], "as": ["series", "value"]}],
         "mark": {"type": "line", "interpolate": "monotone", "strokeWidth": 1.7},
         "encoding": {
           "x": {"field": "E", "type": "quantitative", "scale": {"domain": [773.9, 802.2], "nice": false, "zero": false},
                 "axis": {"values": [774,775,776,777,778,779,780,781,782,783,784,785,786,787,788,789,790,791,792,793,794,795,796,797,798,799,800,801,802], "labels": false, "title": null, "tickSize": {"condition": {"test": "datum.value % 5 === 0", "value": -5}, "value": -2.5}}},
           "y": {"field": "value", "type": "quantitative", "scale": {"domain": [-0.49, 0.193], "nice": false, "zero": false},
                 "axis": {"values": [-0.4, -0.2, 0], "labelExpr": "datum.value === -0.4 ? '-0.4' : (datum.value === 0 ? '0.0' : '')", "labelOverlap": false, "labelPadding": 12, "tickSize": -4.5,
                          "title": "XMCD (arb. units.)", "titleX": -40.3, "titleY": 39.3, "titleBaseline": "middle", "titleAlign": "center", "titleAngle": -90}},
           "color": {"field": "series", "type": "nominal", "scale": {"domain": ["xmcd_cfo", "xmcd_03", "xmcd_22"], "range": ["#1c1c1c", "#3b5ba9", "#e8312b"]}, "legend": null}
         }},
        {"data": {"values": [{}]}, "mark": {"type": "rule", "color": "#1c1c1c", "strokeWidth": 2}, "encoding": {"x": {"datum": 790.83}, "x2": {"datum": 792.54}, "y": {"datum": -0.134}}},
        {"data": {"values": [{}]}, "mark": {"type": "text", "text": "CFO XMCD", "align": "left", "baseline": "middle"}, "encoding": {"x": {"datum": 792.95}, "y": {"datum": -0.134}}},
        {"data": {"values": [{}]}, "mark": {"type": "rule", "color": "#3b5ba9", "strokeWidth": 2}, "encoding": {"x": {"datum": 790.83}, "x2": {"datum": 792.54}, "y": {"datum": -0.262}}},
        {"data": {"values": [{}]}, "mark": {"type": "text", "text": "0-3", "align": "left", "baseline": "middle"}, "encoding": {"x": {"datum": 792.95}, "y": {"datum": -0.262}}},
        {"data": {"values": [{}]}, "mark": {"type": "rule", "color": "#e8312b", "strokeWidth": 2}, "encoding": {"x": {"datum": 790.83}, "x2": {"datum": 792.54}, "y": {"datum": -0.384}}},
        {"data": {"values": [{}]}, "mark": {"type": "text", "text": "2-2", "align": "left", "baseline": "middle"}, "encoding": {"x": {"datum": 792.95}, "y": {"datum": -0.384}}},
        {"data": {"values": [{}]}, "mark": {"type": "text", "text": "a", "align": "left", "baseline": "middle", "fontSize": 17}, "encoding": {"x": {"datum": 775.83}, "y": {"datum": 0.096}}},
        {"data": {"values": [{}]}, "mark": {"type": "text", "text": "1", "align": "left", "baseline": "middle", "fontSize": 9.5, "dx": 9.5, "dy": 5}, "encoding": {"x": {"datum": 775.83}, "y": {"datum": 0.096}}},
        {"data": {"values": [{}]}, "mark": {"type": "rule", "color": "#1c1c1c", "strokeWidth": 1.1}, "encoding": {"x": {"datum": 777.57}, "y": {"datum": 0.109}, "x2": {"datum": 778.82}, "y2": {"datum": 0.072}}},
        {"data": {"values": [{}]}, "mark": {"type": "point", "shape": "triangle-up", "filled": true, "size": 22, "angle": 114, "color": "#1c1c1c", "opacity": 1}, "encoding": {"x": {"datum": 778.82}, "y": {"datum": 0.072}}},
        {"data": {"values": [{}]}, "mark": {"type": "text", "text": "a", "align": "left", "baseline": "middle", "fontSize": 17}, "encoding": {"x": {"datum": 776.25}, "y": {"datum": -0.377}}},
        {"data": {"values": [{}]}, "mark": {"type": "text", "text": "2", "align": "left", "baseline": "middle", "fontSize": 9.5, "dx": 9.5, "dy": 5}, "encoding": {"x": {"datum": 776.25}, "y": {"datum": -0.377}}},
        {"data": {"values": [{}]}, "mark": {"type": "rule", "color": "#1c1c1c", "strokeWidth": 1.1}, "encoding": {"x": {"datum": 777.96}, "y": {"datum": -0.369}, "x2": {"datum": 779.47}, "y2": {"datum": -0.316}}},
        {"data": {"values": [{}]}, "mark": {"type": "point", "shape": "triangle-up", "filled": true, "size": 22, "angle": 61, "color": "#1c1c1c", "opacity": 1}, "encoding": {"x": {"datum": 779.47}, "y": {"datum": -0.316}}}
      ]
    },
    {
      "width": 249, "height": 94,
      "layer": [
        {"data": {"name": "fe"}, "transform": [{"fold": ["xmcd_cfo", "xmcd_03", "xmcd_22"], "as": ["series", "value"]}],
         "mark": {"type": "line", "interpolate": "monotone", "strokeWidth": 1.7},
         "encoding": {
           "x": {"field": "E", "type": "quantitative", "scale": {"domain": [704.13, 728.23], "nice": false, "zero": false},
                 "axis": {"values": [705,706,707,708,709,710,711,712,713,714,715,716,717,718,719,720,721,722,723,724,725,726,727,728], "labels": false, "title": null, "tickSize": {"condition": {"test": "datum.value % 5 === 0", "value": -5}, "value": -2.5}}},
           "y": {"field": "value", "type": "quantitative", "scale": {"domain": [-0.149, 0.144], "nice": false, "zero": false},
                 "axis": {"values": [-0.1, -0.05, 0, 0.05, 0.1], "labelExpr": "datum.value === 0.1 ? '0.1' : (datum.value === -0.1 ? '-0.1' : (datum.value === 0 ? '0.0' : ''))", "labelOverlap": false, "labelPadding": 12, "tickSize": -4.5,
                          "title": "XMCD (arb. units.)", "titleX": -40, "titleY": 39.3, "titleBaseline": "middle", "titleAlign": "center", "titleAngle": -90}},
           "color": {"field": "series", "type": "nominal", "scale": {"domain": ["xmcd_cfo", "xmcd_03", "xmcd_22"], "range": ["#1c1c1c", "#3b5ba9", "#e8312b"]}, "legend": null}
         }},
        {"data": {"values": [{}]}, "mark": {"type": "rule", "color": "#1c1c1c", "strokeWidth": 2}, "encoding": {"x": {"datum": 718.23}, "x2": {"datum": 719.68}, "y": {"datum": 0.094}}},
        {"data": {"values": [{}]}, "mark": {"type": "text", "text": "CFO XMCD", "align": "left", "baseline": "middle"}, "encoding": {"x": {"datum": 719.97}, "y": {"datum": 0.094}}},
        {"data": {"values": [{}]}, "mark": {"type": "rule", "color": "#3b5ba9", "strokeWidth": 2}, "encoding": {"x": {"datum": 718.23}, "x2": {"datum": 719.68}, "y": {"datum": 0.0355}}},
        {"data": {"values": [{}]}, "mark": {"type": "text", "text": "0-3", "align": "left", "baseline": "middle"}, "encoding": {"x": {"datum": 720.1}, "y": {"datum": 0.0355}}},
        {"data": {"values": [{}]}, "mark": {"type": "rule", "color": "#e8312b", "strokeWidth": 2}, "encoding": {"x": {"datum": 718.23}, "x2": {"datum": 719.68}, "y": {"datum": -0.038}}},
        {"data": {"values": [{}]}, "mark": {"type": "text", "text": "2-2", "align": "left", "baseline": "middle"}, "encoding": {"x": {"datum": 720.1}, "y": {"datum": -0.038}}},
        {"data": {"values": [{}]}, "mark": {"type": "text", "text": "b", "align": "left", "baseline": "middle", "fontSize": 17}, "encoding": {"x": {"datum": 707.91}, "y": {"datum": 0.056}}},
        {"data": {"values": [{}]}, "mark": {"type": "text", "text": "2", "align": "left", "baseline": "middle", "fontSize": 9.5, "dx": 9.5, "dy": 5}, "encoding": {"x": {"datum": 707.91}, "y": {"datum": 0.056}}},
        {"data": {"values": [{}]}, "mark": {"type": "rule", "color": "#1c1c1c", "strokeWidth": 1.1}, "encoding": {"x": {"datum": 708.87}, "y": {"datum": 0.1025}, "x2": {"datum": 710.01}, "y2": {"datum": 0.128}}},
        {"data": {"values": [{}]}, "mark": {"type": "point", "shape": "triangle-up", "filled": true, "size": 22, "angle": 55, "color": "#1c1c1c", "opacity": 1}, "encoding": {"x": {"datum": 710.01}, "y": {"datum": 0.128}}},
        {"data": {"values": [{}]}, "mark": {"type": "text", "text": "b", "align": "left", "baseline": "middle", "fontSize": 17}, "encoding": {"x": {"datum": 706.78}, "y": {"datum": -0.11}}},
        {"data": {"values": [{}]}, "mark": {"type": "text", "text": "1", "align": "left", "baseline": "middle", "fontSize": 9.5, "dx": 9.5, "dy": 5}, "encoding": {"x": {"datum": 706.78}, "y": {"datum": -0.11}}},
        {"data": {"values": [{}]}, "mark": {"type": "rule", "color": "#1c1c1c", "strokeWidth": 1.1}, "encoding": {"x": {"datum": 707.75}, "y": {"datum": -0.095}, "x2": {"datum": 709.04}, "y2": {"datum": -0.064}}},
        {"data": {"values": [{}]}, "mark": {"type": "point", "shape": "triangle-up", "filled": true, "size": 22, "angle": 53, "color": "#1c1c1c", "opacity": 1}, "encoding": {"x": {"datum": 709.04}, "y": {"datum": -0.064}}},
        {"data": {"values": [{}]}, "mark": {"type": "text", "text": "b", "align": "left", "baseline": "middle", "fontSize": 17}, "encoding": {"x": {"datum": 713.56}, "y": {"datum": -0.094}}},
        {"data": {"values": [{}]}, "mark": {"type": "text", "text": "3", "align": "left", "baseline": "middle", "fontSize": 9.5, "dx": 9.5, "dy": 5}, "encoding": {"x": {"datum": 713.56}, "y": {"datum": -0.094}}},
        {"data": {"values": [{}]}, "mark": {"type": "rule", "color": "#1c1c1c", "strokeWidth": 1.1}, "encoding": {"x": {"datum": 712.91}, "y": {"datum": -0.107}, "x2": {"datum": 711.68}, "y2": {"datum": -0.128}}},
        {"data": {"values": [{}]}, "mark": {"type": "point", "shape": "triangle-up", "filled": true, "size": 22, "angle": 242, "color": "#1c1c1c", "opacity": 1}, "encoding": {"x": {"datum": 711.68}, "y": {"datum": -0.128}}}
      ]
    },
    {
      "width": 249, "height": 66,
      "resolve": {"axis": {"x": "independent"}},
      "layer": [
        {"data": {"name": "co"}, "transform": [{"fold": ["lfm_a", "lfm_b"], "as": ["series", "value"]}],
         "mark": {"type": "line", "interpolate": "monotone", "strokeWidth": 1.7},
         "encoding": {
           "x": {"field": "E", "type": "quantitative", "scale": {"domain": [773.9, 802.2], "nice": false, "zero": false},
                 "axis": {"orient": "bottom", "values": [775, 780, 785, 790, 795, 800], "format": "d", "labelOverlap": false, "labelFlush": false, "labelPadding": 10, "title": "Photon Energy (eV)", "titlePadding": 3, "tickSize": -5}},
           "y": {"field": "value", "type": "quantitative", "scale": {"domain": [-1, 1], "nice": false, "zero": false},
                 "axis": {"ticks": false, "labels": false, "title": null}},
           "color": {"field": "series", "type": "nominal", "scale": {"domain": ["lfm_a", "lfm_b"], "range": ["#1c1c1c", "#e8312b"]}, "legend": null}
         }},
        {"data": {"values": [{}]}, "mark": {"type": "rule", "opacity": 0}, "encoding": {"x": {"datum": 790, "type": "quantitative", "axis": {"orient": "bottom", "values": [774,776,777,778,779,781,782,783,784,786,787,788,789,791,792,793,794,796,797,798,799,801,802], "labels": false, "title": null, "tickSize": -2.5}}}},
        {"data": {"values": [{}]}, "mark": {"type": "rule", "color": "#1c1c1c", "strokeWidth": 2}, "encoding": {"x": {"datum": 784.58, "axis": null}, "x2": {"datum": 786.29}, "y": {"datum": 0.445}}},
        {"data": {"values": [{}]}, "mark": {"type": "text", "text": "Co", "align": "left", "baseline": "middle"}, "encoding": {"x": {"datum": 786.51, "axis": null}, "y": {"datum": 0.445}}},
        {"data": {"values": [{}]}, "mark": {"type": "text", "text": "2+", "align": "left", "baseline": "middle", "fontSize": 8.5, "dx": 17.5, "dy": -6}, "encoding": {"x": {"datum": 786.51, "axis": null}, "y": {"datum": 0.445}}},
        {"data": {"values": [{}]}, "mark": {"type": "text", "text": "A", "align": "left", "baseline": "middle", "fontSize": 8.5, "dx": 17.5, "dy": 6}, "encoding": {"x": {"datum": 786.51, "axis": null}, "y": {"datum": 0.445}}},
        {"data": {"values": [{}]}, "mark": {"type": "text", "text": "LFM", "align": "left", "baseline": "middle", "dx": 35}, "encoding": {"x": {"datum": 786.51, "axis": null}, "y": {"datum": 0.445}}},
        {"data": {"values": [{}]}, "mark": {"type": "rule", "color": "#e8312b", "strokeWidth": 2}, "encoding": {"x": {"datum": 784.58, "axis": null}, "x2": {"datum": 786.29}, "y": {"datum": -0.645}}},
        {"data": {"values": [{}]}, "mark": {"type": "text", "text": "Co", "align": "left", "baseline": "middle"}, "encoding": {"x": {"datum": 786.51, "axis": null}, "y": {"datum": -0.645}}},
        {"data": {"values": [{}]}, "mark": {"type": "text", "text": "2+", "align": "left", "baseline": "middle", "fontSize": 8.5, "dx": 17.5, "dy": -6}, "encoding": {"x": {"datum": 786.51, "axis": null}, "y": {"datum": -0.645}}},
        {"data": {"values": [{}]}, "mark": {"type": "text", "text": "B", "align": "left", "baseline": "middle", "fontSize": 8.5, "dx": 17.5, "dy": 6}, "encoding": {"x": {"datum": 786.51, "axis": null}, "y": {"datum": -0.645}}}
      ]
    },
    {
      "width": 249, "height": 66,
      "resolve": {"axis": {"x": "independent"}},
      "layer": [
        {"data": {"name": "fe"}, "transform": [{"fold": ["lfm_a", "lfm_b2", "lfm_b3"], "as": ["series", "value"]}],
         "mark": {"type": "line", "interpolate": "monotone", "strokeWidth": 1.7},
         "encoding": {
           "x": {"field": "E", "type": "quantitative", "scale": {"domain": [704.13, 728.23], "nice": false, "zero": false},
                 "axis": {"orient": "bottom", "values": [705, 710, 715, 720, 725], "format": "d", "labelOverlap": false, "labelFlush": false, "labelPadding": 10, "title": "Photon Energy (eV)", "titlePadding": 3, "tickSize": -5}},
           "y": {"field": "value", "type": "quantitative", "scale": {"domain": [-1, 1], "nice": false, "zero": false},
                 "axis": {"ticks": false, "labels": false, "title": null}},
           "color": {"field": "series", "type": "nominal", "scale": {"domain": ["lfm_a", "lfm_b2", "lfm_b3"], "range": ["#1c1c1c", "#e8312b", "#3b5ba9"]}, "legend": null}
         }},
        {"data": {"values": [{}]}, "mark": {"type": "rule", "opacity": 0}, "encoding": {"x": {"datum": 715, "type": "quantitative", "axis": {"orient": "bottom", "values": [706,707,708,709,711,712,713,714,716,717,718,719,721,722,723,724,726,727,728], "labels": false, "title": null, "tickSize": -2.5}}}},
        {"data": {"values": [{}]}, "mark": {"type": "rule", "color": "#1c1c1c", "strokeWidth": 2}, "encoding": {"x": {"datum": 713.07, "axis": null}, "x2": {"datum": 714.53}, "y": {"datum": 0.515}}},
        {"data": {"values": [{}]}, "mark": {"type": "text", "text": "Fe", "align": "left", "baseline": "middle"}, "encoding": {"x": {"datum": 714.65, "axis": null}, "y": {"datum": 0.515}}},
        {"data": {"values": [{}]}, "mark": {"type": "text", "text": "3+", "align": "left", "baseline": "middle", "fontSize": 8.5, "dx": 15.5, "dy": -6}, "encoding": {"x": {"datum": 714.65, "axis": null}, "y": {"datum": 0.515}}},
        {"data": {"values": [{}]}, "mark": {"type": "text", "text": "A", "align": "left", "baseline": "middle", "fontSize": 8.5, "dx": 15.5, "dy": 6}, "encoding": {"x": {"datum": 714.65, "axis": null}, "y": {"datum": 0.515}}},
        {"data": {"values": [{}]}, "mark": {"type": "text", "text": "LFM", "align": "left", "baseline": "middle", "dx": 33}, "encoding": {"x": {"datum": 714.65, "axis": null}, "y": {"datum": 0.515}}},
        {"data": {"values": [{}]}, "mark": {"type": "rule", "color": "#e8312b", "strokeWidth": 2}, "encoding": {"x": {"datum": 713.07, "axis": null}, "x2": {"datum": 714.53}, "y": {"datum": -0.442}}},
        {"data": {"values": [{}]}, "mark": {"type": "text", "text": "Fe", "align": "left", "baseline": "middle"}, "encoding": {"x": {"datum": 714.65, "axis": null}, "y": {"datum": -0.442}}},
        {"data": {"values": [{}]}, "mark": {"type": "text", "text": "2+", "align": "left", "baseline": "middle", "fontSize": 8.5, "dx": 15.5, "dy": -6}, "encoding": {"x": {"datum": 714.65, "axis": null}, "y": {"datum": -0.442}}},
        {"data": {"values": [{}]}, "mark": {"type": "text", "text": "B", "align": "left", "baseline": "middle", "fontSize": 8.5, "dx": 15.5, "dy": 6}, "encoding": {"x": {"datum": 714.65, "axis": null}, "y": {"datum": -0.442}}},
        {"data": {"values": [{}]}, "mark": {"type": "rule", "color": "#3b5ba9", "strokeWidth": 2}, "encoding": {"x": {"datum": 717.11, "axis": null}, "x2": {"datum": 718.48}, "y": {"datum": -0.442}}},
        {"data": {"values": [{}]}, "mark": {"type": "text", "text": "Fe", "align": "left", "baseline": "middle"}, "encoding": {"x": {"datum": 718.99, "axis": null}, "y": {"datum": -0.442}}},
        {"data": {"values": [{}]}, "mark": {"type": "text", "text": "3+", "align": "left", "baseline": "middle", "fontSize": 8.5, "dx": 15.5, "dy": -6}, "encoding": {"x": {"datum": 718.99, "axis": null}, "y": {"datum": -0.442}}},
        {"data": {"values": [{}]}, "mark": {"type": "text", "text": "B", "align": "left", "baseline": "middle", "fontSize": 8.5, "dx": 15.5, "dy": 6}, "encoding": {"x": {"datum": 718.99, "axis": null}, "y": {"datum": -0.442}}}
      ]
    }
  ],
  "config": {
    "font": "Liberation Serif, Times New Roman, Times, DejaVu Serif, serif",
    "view": {"stroke": "#1c1c1c", "strokeWidth": 1.3},
    "axis": {"domain": false, "grid": false, "labelFont": "Liberation Serif, Times New Roman, Times, DejaVu Serif, serif", "labelFontWeight": "bold", "labelFontSize": 14, "labelColor": "#1c1c1c",
             "titleFont": "Liberation Serif, Times New Roman, Times, DejaVu Serif, serif", "titleFontWeight": "bold", "titleFontSize": 14, "titleColor": "#1c1c1c",
             "tickColor": "#1c1c1c", "tickWidth": 1.1, "labelOverlap": false, "labelFlush": false},
    "text": {"font": "Liberation Serif, Times New Roman, Times, DejaVu Serif, serif", "fontWeight": "bold", "fontSize": 14, "color": "#1c1c1c"},
    "line": {"strokeWidth": 1.7},
    "rule": {"strokeWidth": 1.7}
  }
}
